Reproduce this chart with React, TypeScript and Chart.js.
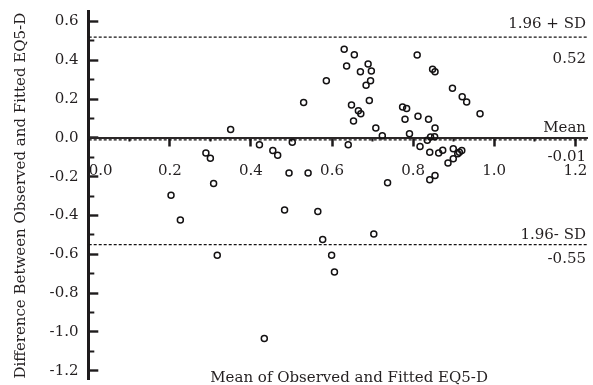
import { useEffect, useRef } from 'react';
import { Chart, registerables } from 'chart.js';

Chart.register(...registerables);

// Bland–Altman data: mean of observed & fitted EQ5-D (x) vs difference (y)
const meanValues = [
  0.630, 0.655, 0.636, 0.689, 0.670, 0.697, 0.586, 0.695, 0.684, 0.530,
  0.648, 0.692, 0.665, 0.671, 0.653, 0.350, 0.708, 0.724, 0.421, 0.502,
  0.640, 0.289, 0.300, 0.454, 0.466, 0.494, 0.541, 0.308, 0.737, 0.810,
  0.848, 0.854, 0.897, 0.921, 0.932, 0.965, 0.774, 0.784, 0.780, 0.812,
  0.838, 0.854, 0.791, 0.835, 0.843, 0.853, 0.817, 0.841, 0.863, 0.873,
  0.899, 0.914, 0.920, 0.910, 0.899, 0.886, 0.841, 0.854, 0.203, 0.226,
  0.483, 0.565, 0.703, 0.577, 0.317, 0.599, 0.606, 0.433,
];
const differenceValues = [
  0.457, 0.429, 0.371, 0.382, 0.342, 0.345, 0.295, 0.295, 0.272, 0.183,
  0.170, 0.193, 0.140, 0.125, 0.088, 0.044, 0.051, 0.012, -0.035, -0.022,
  -0.035, -0.078, -0.105, -0.064, -0.089, -0.180, -0.180, -0.234, -0.231, 0.428,
  0.355, 0.342, 0.257, 0.212, 0.185, 0.125, 0.160, 0.152, 0.096, 0.112,
  0.096, 0.052, 0.022, -0.012, 0.005, 0.007, -0.044, -0.073, -0.077, -0.063,
  -0.056, -0.074, -0.064, -0.081, -0.107, -0.129, -0.215, -0.194, -0.295, -0.423,
  -0.371, -0.379, -0.495, -0.523, -0.604, -0.604, -0.691, -1.034,
];

const xTickValues = [0, 0.2, 0.4, 0.6, 0.8, 1.0, 1.2];
const xMinorTickValues = [0.1, 0.3, 0.5, 0.7, 0.9, 1.1];
const yTickValues = [-1.2, -1.0, -0.8, -0.6, -0.4, -0.2, 0, 0.2, 0.4, 0.6];
const yMinorTickValues = [-1.1, -0.9, -0.7, -0.5, -0.3, -0.1, 0.1, 0.3, 0.5];

const limitValues = [0.52, -0.01, -0.55];
const limitNames = ['1.96 + SD', 'Mean', '1.96- SD'];
const limitValueLabels = ['0.52', '-0.01', '-0.55'];

const xTitle = 'Mean of Observed and Fitted EQ5-D';
const yTitle = 'Difference Between Observed and Fitted EQ5-D';

const X_MIN = 0;
const X_MAX = 1.23;
const Y_MIN = -1.245;
const Y_MAX = 0.65;

const FONT_FAMILY = '"DejaVu Serif", serif';
const TEXT = '#231f20';
const AXIS = '#1e1b1c';
const NAME_DY = [-9, -7.5, -6];
const VALUE_DY = [26, 21, 18];

const limitTextPlugin = {
  id: 'limitText',
  afterDraw(chart: any) {
    const { ctx, chartArea, scales } = chart;
    ctx.save();
    ctx.font = `15px ${FONT_FAMILY}`;
    ctx.fillStyle = TEXT;
    ctx.textBaseline = 'alphabetic';
    ctx.textAlign = 'right';
    const xr = chartArea.right - 1.5;
    limitValues.forEach((v, i) => {
      const py = scales.y.getPixelForValue(v);
      ctx.fillText(limitNames[i], xr, py + NAME_DY[i]);
      ctx.fillText(limitValueLabels[i], xr, py + VALUE_DY[i]);
    });
    ctx.textAlign = 'center';
    ctx.fillText(xTitle, (chartArea.left + chartArea.right) / 2 + 11, chart.height - 3.5);
    ctx.restore();
  },
};

export default function App() {
  const ref = useRef<HTMLCanvasElement>(null);

  useEffect(() => {
    if (!ref.current) return;
    const points = meanValues.map((x, i) => ({ x, y: differenceValues[i] }));
    const limitDatasets = limitValues.map((v) => ({
      type: 'scatter' as const,
      data: [
        { x: X_MIN, y: v },
        { x: X_MAX, y: v },
      ],
      showLine: true,
      borderColor: '#141213',
      borderWidth: 1.2,
      borderDash: [3, 2],
      pointRadius: 0,
      pointHoverRadius: 0,
      xAxisID: 'x',
      yAxisID: 'y',
    }));

    const chart = new Chart(ref.current, {
      type: 'scatter',
      data: {
        datasets: [
          ...limitDatasets,
          {
            data: points,
            pointStyle: 'circle',
            pointRadius: 3,
            pointBorderWidth: 1.5,
            borderColor: '#141213',
            backgroundColor: 'rgba(0,0,0,0)',
            pointBackgroundColor: 'rgba(0,0,0,0)',
            pointBorderColor: '#141213',
            xAxisID: 'x',
            yAxisID: 'y',
          } as any,
        ],
      },
      options: {
        responsive: false,
        animation: false,
        events: [],
        layout: { padding: { top: 11.9, bottom: 4.6, left: 0, right: 0 } },
        plugins: {
          legend: { display: false },
          tooltip: { enabled: false },
          title: { display: false },
        },
        scales: {
          x: {
            type: 'linear',
            axis: 'x',
            position: { y: 0 },
            min: X_MIN,
            max: X_MAX,
            afterBuildTicks: (s: any) => {
              s.ticks = [...xTickValues, X_MAX].map((value) => ({ value }));
            },
            afterFit: (s: any) => {
              s.height = 0;
              s.paddingLeft = 0;
              s.paddingRight = 0;
              s.paddingTop = 0;
              s.paddingBottom = 0;
            },
            grid: {
              display: true,
              drawOnChartArea: false,
              drawTicks: true,
              tickLength: 7.5,
              tickWidth: 2.5,
              tickColor: (c: any) =>
                c.tick && c.tick.value > 1.21 ? 'rgba(0,0,0,0)' : AXIS,
            },
            border: { display: true, color: '#2b2728', width: 2 },
            ticks: {
              align: 'inner',
              autoSkip: false,
              maxRotation: 0,
              minRotation: 0,
              padding: 16.4,
              color: TEXT,
              font: { family: FONT_FAMILY, size: 15 },
              callback: (v: any) => (Number(v) > 1.21 ? '' : Number(v).toFixed(1)),
            },
          },
          xMinor: {
            type: 'linear',
            axis: 'x',
            position: { y: 0 },
            min: X_MIN,
            max: X_MAX,
            afterBuildTicks: (s: any) => {
              s.ticks = xMinorTickValues.map((value) => ({ value }));
            },
            afterFit: (s: any) => {
              s.height = 0;
              s.paddingLeft = 0;
              s.paddingRight = 0;
              s.paddingTop = 0;
              s.paddingBottom = 0;
            },
            grid: {
              display: true,
              drawOnChartArea: false,
              drawTicks: true,
              tickLength: 3.5,
              tickWidth: 2,
              tickColor: AXIS,
            },
            border: { display: false },
            ticks: { display: false },
          },
          y: {
            type: 'linear',
            axis: 'y',
            position: 'left',
            min: Y_MIN,
            max: Y_MAX,
            afterBuildTicks: (s: any) => {
              s.ticks = yTickValues.map((value) => ({ value }));
            },
            afterFit: (s: any) => {
              s.width = 88.7;
              s.paddingTop = 0;
              s.paddingBottom = 0;
              s.paddingLeft = 0;
              s.paddingRight = 0;
            },
            grid: {
              display: true,
              drawOnChartArea: false,
              drawTicks: true,
              tickLength: -9.6,
              tickWidth: 2.4,
              tickColor: AXIS,
            },
            border: { display: true, color: AXIS, width: 3 },
            ticks: {
              autoSkip: false,
              padding: 19.8,
              color: TEXT,
              font: { family: FONT_FAMILY, size: 15 },
              callback: (v: any) => Number(v).toFixed(1),
            },
            title: {
              display: true,
              text: yTitle,
              color: TEXT,
              font: { family: FONT_FAMILY, size: 15 },
              padding: { top: 12, bottom: 0 },
            },
          },
          yMinor: {
            type: 'linear',
            axis: 'y',
            position: { x: 0 },
            min: Y_MIN,
            max: Y_MAX,
            afterBuildTicks: (s: any) => {
              s.ticks = yMinorTickValues.map((value) => ({ value }));
            },
            afterFit: (s: any) => {
              s.width = 0;
              s.paddingTop = 0;
              s.paddingBottom = 0;
              s.paddingLeft = 0;
              s.paddingRight = 0;
            },
            grid: {
              display: true,
              drawOnChartArea: false,
              drawTicks: true,
              tickLength: -5.3,
              tickWidth: 2,
              tickColor: AXIS,
            },
            border: { display: false },
            ticks: { display: false },
          },
        } as any,
      },
      plugins: [limitTextPlugin],
    });

    return () => chart.destroy();
  }, []);

  return (
    <div
      style={{
        position: 'absolute',
        left: 0,
        top: 0,
        width: 593,
        height: 385,
        background: '#ffffff',
      }}
    >
      <canvas ref={ref} width={593} height={385} style={{ display: 'block' }} />
    </div>
  );
}
